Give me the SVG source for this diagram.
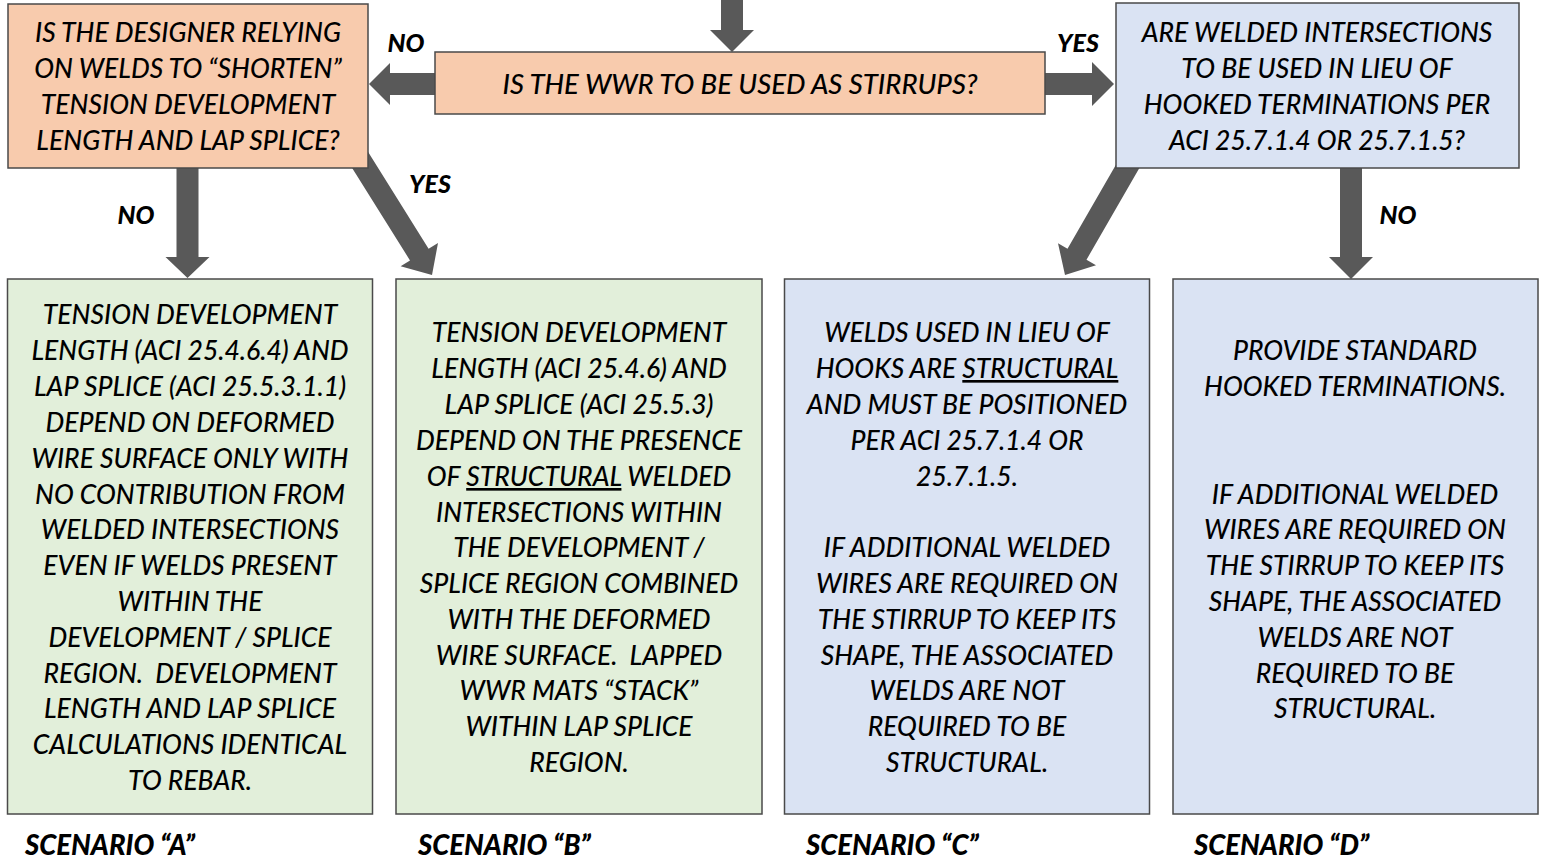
<svg xmlns="http://www.w3.org/2000/svg" width="1543" height="863" viewBox="0 0 1543 863">
<style>
.box{stroke:#4a4a4a;stroke-width:1.5}
.peach{fill:#F8CBAD}
.green{fill:#E2EFDA}
.blue{fill:#DAE3F3}
.arr{fill:#595959}
text{font-family:Lato,"Liberation Sans",sans-serif;font-style:italic;font-weight:500;font-size:26.5px;fill:#000;text-anchor:middle}
.lbl{font-weight:900;font-size:25px}
.scn{font-weight:900;font-size:27.5px;text-anchor:start}
</style>
<rect width="1543" height="863" fill="#fff"/>
<g id="connectors">
<polygon class="arr" points="721,0 743,0 743,30 754,30 732,52 710,30 721,30"/>
<polygon class="arr" points="435,73 390,73 390,63 369,84 390,105 390,95 435,95"/>
<polygon class="arr" points="1045,73 1092,73 1092,62 1114,84 1092,106 1092,95 1045,95"/>
<polygon class="arr" points="176.5,160 198.5,160 198.5,257 209.5,257 187.5,278 165.5,257 176.5,257"/>
<polygon class="arr" points="1340,160 1362,160 1362,257 1373,257 1351,279 1329,257 1340,257"/>
<polygon class="arr" points="359.7,138.6 428.6,248.8 438,243 432,275 400.6,266.3 410,260.4 341,150.2"/>
<polygon class="arr" points="1151.5,147.1 1086.5,259.7 1096,265.2 1065,275 1058,243.2 1067.5,248.7 1132.5,136.1"/>
</g>
<g id="q-stirrups">
<rect class="box peach" x="435" y="52" width="610" height="62"/>
<text x="740" y="94" style="font-size:27.5px">IS THE WWR TO BE USED AS STIRRUPS?</text>
</g>
<g id="q-shorten">
<rect class="box peach" x="8" y="4" width="360" height="164"/>
<text x="188" y="42">IS THE DESIGNER RELYING</text>
<text x="188" y="78">ON WELDS TO “SHORTEN”</text>
<text x="188" y="114">TENSION DEVELOPMENT</text>
<text x="188" y="150">LENGTH AND LAP SPLICE?</text>
</g>
<g id="q-hooks">
<rect class="box blue" x="1116" y="3" width="403" height="165"/>
<text x="1317" y="42">ARE WELDED INTERSECTIONS</text>
<text x="1317" y="78">TO BE USED IN LIEU OF</text>
<text x="1317" y="114">HOOKED TERMINATIONS PER</text>
<text x="1317" y="150">ACI 25.7.1.4 OR 25.7.1.5?</text>
</g>
<g id="scenario-a">
<rect class="box green" x="7.5" y="279" width="365" height="535"/>
<text x="190" y="324">TENSION DEVELOPMENT</text>
<text x="190" y="360">LENGTH (ACI 25.4.6.4) AND</text>
<text x="190" y="396">LAP SPLICE (ACI 25.5.3.1.1)</text>
<text x="190" y="432">DEPEND ON DEFORMED</text>
<text x="190" y="468">WIRE SURFACE ONLY WITH</text>
<text x="190" y="504">NO CONTRIBUTION FROM</text>
<text x="190" y="539">WELDED INTERSECTIONS</text>
<text x="190" y="575">EVEN IF WELDS PRESENT</text>
<text x="190" y="611">WITHIN THE</text>
<text x="190" y="647">DEVELOPMENT / SPLICE</text>
<text x="190" y="683" xml:space="preserve">REGION.  DEVELOPMENT</text>
<text x="190" y="718">LENGTH AND LAP SPLICE</text>
<text x="190" y="754">CALCULATIONS IDENTICAL</text>
<text x="190" y="790">TO REBAR.</text>
<text class="scn" x="25" y="855">SCENARIO “A”</text>
</g>
<g id="scenario-b">
<rect class="box green" x="396" y="279" width="366" height="535"/>
<text x="579" y="342">TENSION DEVELOPMENT</text>
<text x="579" y="378">LENGTH (ACI 25.4.6) AND</text>
<text x="579" y="414">LAP SPLICE (ACI 25.5.3)</text>
<text x="579" y="450">DEPEND ON THE PRESENCE</text>
<text x="579" y="486" xml:space="preserve">OF <tspan text-decoration="underline">STRUCTURAL</tspan> WELDED</text>
<text x="579" y="522">INTERSECTIONS WITHIN</text>
<text x="579" y="557">THE DEVELOPMENT /</text>
<text x="579" y="593">SPLICE REGION COMBINED</text>
<text x="579" y="629">WITH THE DEFORMED</text>
<text x="579" y="665" xml:space="preserve">WIRE SURFACE.  LAPPED</text>
<text x="579" y="700">WWR MATS “STACK”</text>
<text x="579" y="736">WITHIN LAP SPLICE</text>
<text x="579" y="772">REGION.</text>
<text class="scn" x="418" y="855">SCENARIO “B”</text>
</g>
<g id="scenario-c">
<rect class="box blue" x="784.5" y="279" width="365" height="535"/>
<text x="967" y="342">WELDS USED IN LIEU OF</text>
<text x="967" y="378" xml:space="preserve">HOOKS ARE <tspan text-decoration="underline">STRUCTURAL</tspan></text>
<text x="967" y="414">AND MUST BE POSITIONED</text>
<text x="967" y="450">PER ACI 25.7.1.4 OR</text>
<text x="967" y="486">25.7.1.5.</text>
<text x="967" y="557">IF ADDITIONAL WELDED</text>
<text x="967" y="593">WIRES ARE REQUIRED ON</text>
<text x="967" y="629">THE STIRRUP TO KEEP ITS</text>
<text x="967" y="665">SHAPE, THE ASSOCIATED</text>
<text x="967" y="700">WELDS ARE NOT</text>
<text x="967" y="736">REQUIRED TO BE</text>
<text x="967" y="772">STRUCTURAL.</text>
<text class="scn" x="806" y="855">SCENARIO “C”</text>
</g>
<g id="scenario-d">
<rect class="box blue" x="1173" y="279" width="365" height="535"/>
<text x="1355" y="360">PROVIDE STANDARD</text>
<text x="1355" y="396">HOOKED TERMINATIONS.</text>
<text x="1355" y="504">IF ADDITIONAL WELDED</text>
<text x="1355" y="539">WIRES ARE REQUIRED ON</text>
<text x="1355" y="575">THE STIRRUP TO KEEP ITS</text>
<text x="1355" y="611">SHAPE, THE ASSOCIATED</text>
<text x="1355" y="647">WELDS ARE NOT</text>
<text x="1355" y="683">REQUIRED TO BE</text>
<text x="1355" y="718">STRUCTURAL.</text>
<text class="scn" x="1194" y="855">SCENARIO “D”</text>
</g>
<g id="labels">
<text class="lbl" x="406" y="52">NO</text>
<text class="lbl" x="1078" y="52">YES</text>
<text class="lbl" x="430" y="193">YES</text>
<text class="lbl" x="136" y="224">NO</text>
<text class="lbl" x="1398" y="224">NO</text>
</g>
</svg>
